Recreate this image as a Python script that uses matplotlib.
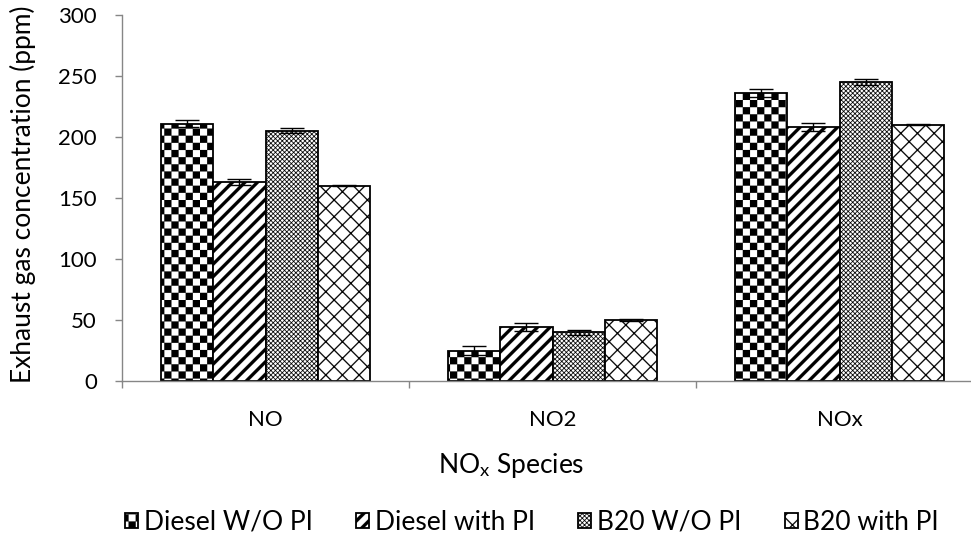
import numpy as np
import matplotlib
matplotlib.use("Agg")
import matplotlib.pyplot as plt
import matplotlib.hatch as mhatch
from matplotlib.path import Path
from matplotlib.ticker import FixedLocator

species = ["NO", "NO2", "NOx"]
series = ["Diesel W/O PI", "Diesel with PI", "B20 W/O PI", "B20 with PI"]

diesel_wo_pi = [211, 25, 236]
diesel_with_pi = [163, 44, 208]
b20_wo_pi = [205, 40, 245]
b20_with_pi = [160, 50, 210]

diesel_wo_pi_err = [3.0, 3.5, 3.3]
diesel_with_pi_err = [2.7, 3.3, 3.3]
b20_wo_pi_err = [2.0, 2.0, 2.2]
b20_with_pi_err = [0.5, 0.5, 0.5]

y_ticks = [0, 50, 100, 150, 200, 250, 300]


# Excel-like fill patterns, drawn as filled shapes inside the 1 inch hatch tile
def band_polys(period, width, direction):
    polys = []
    for c in np.arange(-1.0, 2.0 + 1e-9, period):
        if direction > 0:
            polys.append([(c, 0), (c + width, 0), (c + width + 1, 1), (c + 1, 1)])
        else:
            polys.append([(c, 0), (c + width, 0), (c + width - 1, 1), (c - 1, 1)])
    return polys


def checker_polys(cells):
    s = 1.0 / (2 * cells)
    polys = []
    for i in range(2 * cells):
        for j in range(2 * cells):
            if (i + j) % 2 == 0:
                x0, y0 = i * s, j * s
                polys.append([(x0, y0), (x0 + s, y0), (x0 + s, y0 + s), (x0, y0 + s)])
    return polys


class PolyHatch(mhatch.HatchPatternBase):
    char = ""

    def __init__(self, hatch, density):
        self.polys = self.make() if self.char in hatch else []
        self.num_vertices = len(self.polys) * 5

    def set_vertices_and_codes(self, vertices, codes):
        k = 0
        for poly in self.polys:
            vertices[k:k + 4] = poly
            vertices[k + 4] = poly[0]
            codes[k] = Path.MOVETO
            codes[k + 1:k + 4] = Path.LINETO
            codes[k + 4] = Path.CLOSEPOLY
            k += 5


class CheckerHatch(PolyHatch):
    char = "o"

    def make(self):
        return checker_polys(7)


class StripeHatch(PolyHatch):
    char = "/"

    def make(self):
        return band_polys(1 / 8, 0.045, 1)


class TrellisHatch(PolyHatch):
    char = "."

    def make(self):
        return band_polys(1 / 22, 0.009, 1) + band_polys(1 / 22, 0.009, -1)


class DiamondHatch(PolyHatch):
    char = "x"

    def make(self):
        return band_polys(1 / 6, 0.016, 1) + band_polys(1 / 6, 0.016, -1)


mhatch._hatch_types[:] = [CheckerHatch, StripeHatch, TrellisHatch, DiamondHatch]

plt.rcParams["font.family"] = ["Lato", "DejaVu Sans"]
plt.rcParams["mathtext.fontset"] = "custom"
plt.rcParams["mathtext.rm"] = "Lato"
plt.rcParams["mathtext.it"] = "Lato:italic"
plt.rcParams["hatch.linewidth"] = 0.1
plt.rcParams["hatch.color"] = "black"

axis_gray = "#868686"

fig = plt.figure(figsize=(9.71, 5.41), dpi=100)
ax = fig.add_axes([122 / 971, 160 / 541, 861 / 971, 366 / 541])

x = np.arange(len(species))
width = 0.182
values = [diesel_wo_pi, diesel_with_pi, b20_wo_pi, b20_with_pi]
errors = [diesel_wo_pi_err, diesel_with_pi_err, b20_wo_pi_err, b20_with_pi_err]
hatches = ["o", "/", ".", "x"]

for i in range(len(series)):
    ax.bar(x + (i - 1.5) * width, values[i], width, yerr=errors[i],
           color="white", edgecolor="black", linewidth=1.3, hatch=hatches[i],
           label=series[i],
           error_kw=dict(ecolor="black", elinewidth=1.0, capsize=8.5,
                         capthick=1.0, zorder=3))

ax.set_xlim(-0.5, 2.5)
ax.set_ylim(0, 300)
ax.set_yticks(y_ticks)
ax.set_xticks(x)
ax.set_xticklabels(species)
ax.xaxis.set_minor_locator(FixedLocator([-0.5, 0.5, 1.5, 2.5]))

for side in ["top", "right"]:
    ax.spines[side].set_visible(False)
for side in ["left", "bottom"]:
    ax.spines[side].set_color(axis_gray)
    ax.spines[side].set_linewidth(1.0)

ax.tick_params(axis="y", direction="out", length=5, width=1.0, color=axis_gray,
               labelsize=16, pad=13)
ax.tick_params(axis="x", which="major", length=0, labelsize=16, pad=21)
ax.tick_params(axis="x", which="minor", direction="out", length=5, width=1.0,
               color=axis_gray)

ax.set_ylabel("Exhaust gas concentration (ppm)", fontsize=19)
ax.yaxis.set_label_coords(-0.1, 0.51)
ax.set_xlabel(r"NO$_\mathrm{x}$ Species", fontsize=19)
ax.xaxis.label.set_va("center")
ax.xaxis.set_label_coords(0.452, -0.232)

fig.legend(loc="center", bbox_to_anchor=(532 / 971, 1 - 522 / 541), ncol=4,
           frameon=False, fontsize=19, handlelength=0.5, handleheight=0.5,
           handletextpad=0.2, columnspacing=1.65)

plt.savefig("out.png", dpi=100)
